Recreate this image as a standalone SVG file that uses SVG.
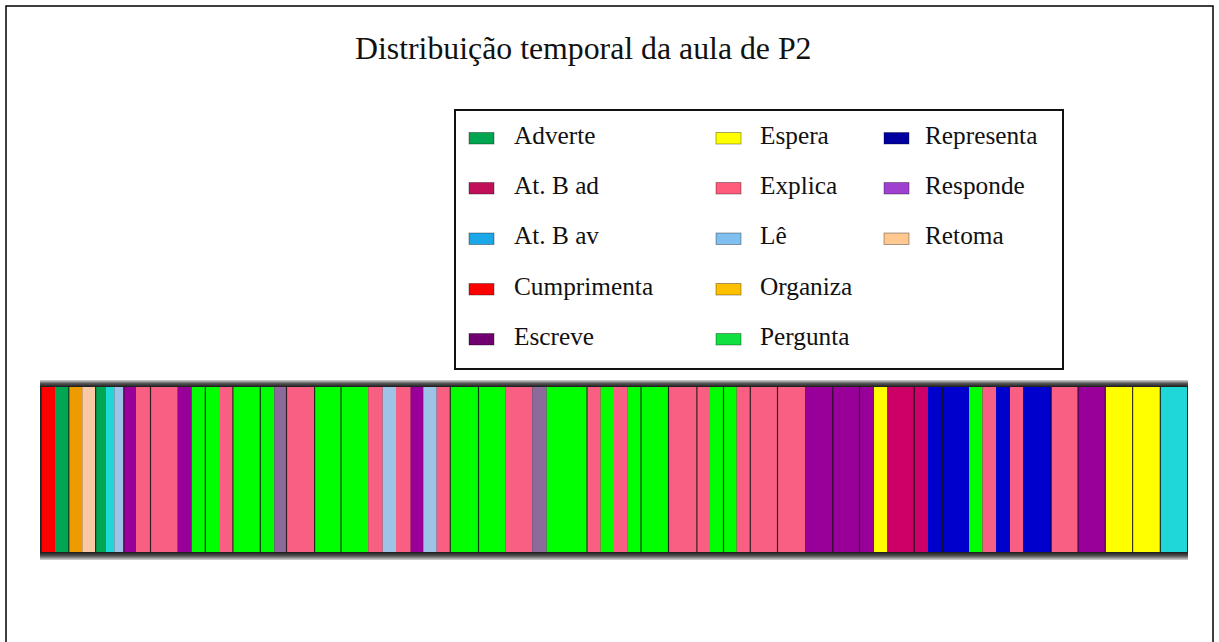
<svg xmlns="http://www.w3.org/2000/svg" width="1219" height="642" viewBox="0 0 1219 642">
<style>
text{font-family:"Liberation Serif","Times New Roman",serif;fill:#111}
.title{font-size:31.8px}
.lg{font-size:25.3px}
.sw{stroke:#000;stroke-opacity:0.35;stroke-width:1}
.seg{stroke:none}
.sep{stroke:#111;stroke-width:1.2;stroke-opacity:0.8}
.red{fill:#FF0000}.adv{fill:#00A651}.org{fill:#EE9B00}.pch{fill:#F9C9A6}
.cya{fill:#1FD7D7}.lbl{fill:#9DC3E6}.pur{fill:#990099}.pnk{fill:#F95F82}
.grn{fill:#00FF00}.gpu{fill:#8C6A9A}.yel{fill:#FFFF00}.crm{fill:#CC0066}.blu{fill:#0000CC}
</style>
<defs>
<linearGradient id="topg" x1="0" y1="0" x2="0" y2="1">
<stop offset="0" stop-color="#d8d8d8"/><stop offset="0.5" stop-color="#555"/><stop offset="1" stop-color="#1a1a1a"/>
</linearGradient>
<linearGradient id="botg" x1="0" y1="0" x2="0" y2="1">
<stop offset="0" stop-color="#1a1a1a"/><stop offset="0.5" stop-color="#555"/><stop offset="1" stop-color="#d8d8d8"/>
</linearGradient>
</defs>
<rect x="0" y="0" width="1219" height="642" fill="#fff"/>
<rect x="6" y="6" width="1207" height="660" fill="none" stroke="#000" stroke-width="1.5"/>
<text class="title" x="355" y="59">Distribuição temporal da aula de P2</text>

<g id="legend">
<rect x="455" y="110" width="608" height="259" fill="#fff" stroke="#111" stroke-width="2"/>
<g id="lg-adverte"><rect class="sw" x="469" y="132.5" width="25" height="11.5" fill="#00A550"/><text class="lg" x="514" y="143.5">Adverte</text></g>
<g id="lg-atbad"><rect class="sw" x="469" y="182.5" width="25" height="11.5" fill="#C0105A"/><text class="lg" x="514" y="193.5">At. B ad</text></g>
<g id="lg-atbav"><rect class="sw" x="469" y="233" width="25" height="11.5" fill="#1AA8E8"/><text class="lg" x="514" y="244">At. B av</text></g>
<g id="lg-cumprimenta"><rect class="sw" x="469" y="283.5" width="25" height="11.5" fill="#FF0000"/><text class="lg" x="514" y="294.5">Cumprimenta</text></g>
<g id="lg-escreve"><rect class="sw" x="469" y="333.5" width="25" height="11.5" fill="#700070"/><text class="lg" x="514" y="344.5">Escreve</text></g>
<g id="lg-espera"><rect class="sw" x="716" y="132.5" width="25" height="11.5" fill="#FFFF00" stroke-opacity="0.1"/><text class="lg" x="760" y="143.5">Espera</text></g>
<g id="lg-explica"><rect class="sw" x="716" y="182.5" width="25" height="11.5" fill="#FF5C7C"/><text class="lg" x="760" y="193.5">Explica</text></g>
<g id="lg-le"><rect class="sw" x="716" y="233" width="25" height="11.5" fill="#80C0F0"/><text class="lg" x="760" y="244">Lê</text></g>
<g id="lg-organiza"><rect class="sw" x="716" y="283.5" width="25" height="11.5" fill="#FFC000"/><text class="lg" x="760" y="294.5">Organiza</text></g>
<g id="lg-pergunta"><rect class="sw" x="716" y="333.5" width="25" height="11.5" fill="#10E040"/><text class="lg" x="760" y="344.5">Pergunta</text></g>
<g id="lg-representa"><rect class="sw" x="884" y="132.5" width="25" height="11.5" fill="#0000A0"/><text class="lg" x="925" y="143.5">Representa</text></g>
<g id="lg-responde"><rect class="sw" x="884" y="182.5" width="25" height="11.5" fill="#A040D0"/><text class="lg" x="925" y="193.5">Responde</text></g>
<g id="lg-retoma"><rect class="sw" x="884" y="233" width="25" height="11.5" fill="#FFC890"/><text class="lg" x="925" y="244">Retoma</text></g>
</g>

<g id="timeline">
<rect x="40" y="380" width="1148" height="7" fill="url(#topg)"/>
<rect x="40" y="552" width="1148" height="8" fill="url(#botg)"/>
<rect x="40" y="387" width="1148" height="165" fill="#222"/>
<rect class="seg red" x="41.7" y="387" width="13.3" height="165"/>
<rect class="seg adv" x="55" y="387" width="14" height="165"/>
<rect class="seg org" x="69" y="387" width="13.3" height="165"/>
<rect class="seg pch" x="82.3" y="387" width="13.4" height="165"/>
<rect class="seg adv" x="95.7" y="387" width="10.3" height="165"/>
<rect class="seg cya" x="106" y="387" width="8.3" height="165"/>
<rect class="seg lbl" x="114.3" y="387" width="9.5" height="165"/>
<rect class="seg pur" x="123.8" y="387" width="12.2" height="165"/>
<rect class="seg pnk" x="136" y="387" width="14.5" height="165"/>
<rect class="seg pnk" x="150.5" y="387" width="27.2" height="165"/>
<rect class="seg pur" x="177.7" y="387" width="14" height="165"/>
<rect class="seg grn" x="191.7" y="387" width="13.6" height="165"/>
<rect class="seg grn" x="205.3" y="387" width="13.7" height="165"/>
<rect class="seg pnk" x="219" y="387" width="13.9" height="165"/>
<rect class="seg grn" x="232.9" y="387" width="27.4" height="165"/>
<rect class="seg grn" x="260.3" y="387" width="14" height="165"/>
<rect class="seg gpu" x="274.3" y="387" width="12.2" height="165"/>
<rect class="seg pnk" x="286.5" y="387" width="28.1" height="165"/>
<rect class="seg grn" x="314.6" y="387" width="26.4" height="165"/>
<rect class="seg grn" x="341" y="387" width="27.3" height="165"/>
<rect class="seg pnk" x="368.3" y="387" width="14.4" height="165"/>
<rect class="seg lbl" x="382.7" y="387" width="13.3" height="165"/>
<rect class="seg pnk" x="396" y="387" width="14.7" height="165"/>
<rect class="seg pur" x="410.7" y="387" width="12.6" height="165"/>
<rect class="seg lbl" x="423.3" y="387" width="13.4" height="165"/>
<rect class="seg pnk" x="436.7" y="387" width="13.6" height="165"/>
<rect class="seg grn" x="450.3" y="387" width="28.2" height="165"/>
<rect class="seg grn" x="478.5" y="387" width="27.2" height="165"/>
<rect class="seg pnk" x="505.7" y="387" width="26.6" height="165"/>
<rect class="seg gpu" x="532.3" y="387" width="14.4" height="165"/>
<rect class="seg grn" x="546.7" y="387" width="40.3" height="165"/>
<rect class="seg pnk" x="587" y="387" width="13.7" height="165"/>
<rect class="seg grn" x="600.7" y="387" width="13.3" height="165"/>
<rect class="seg pnk" x="614" y="387" width="13.3" height="165"/>
<rect class="seg grn" x="627.3" y="387" width="13.7" height="165"/>
<rect class="seg grn" x="641" y="387" width="27.5" height="165"/>
<rect class="seg pnk" x="668.5" y="387" width="28.4" height="165"/>
<rect class="seg pnk" x="696.9" y="387" width="13.1" height="165"/>
<rect class="seg grn" x="710" y="387" width="13.5" height="165"/>
<rect class="seg grn" x="723.5" y="387" width="13.2" height="165"/>
<rect class="seg pnk" x="736.7" y="387" width="13.6" height="165"/>
<rect class="seg pnk" x="750.3" y="387" width="27.2" height="165"/>
<rect class="seg pnk" x="777.5" y="387" width="27.5" height="165"/>
<rect class="seg pur" x="805" y="387" width="27.8" height="165"/>
<rect class="seg pur" x="832.8" y="387" width="26.7" height="165"/>
<rect class="seg pur" x="859.5" y="387" width="14.5" height="165"/>
<rect class="seg yel" x="874" y="387" width="13.3" height="165"/>
<rect class="seg crm" x="887.3" y="387" width="26.9" height="165"/>
<rect class="seg crm" x="914.2" y="387" width="13.8" height="165"/>
<rect class="seg blu" x="928" y="387" width="14.5" height="165"/>
<rect class="seg blu" x="942.5" y="387" width="26.5" height="165"/>
<rect class="seg grn" x="969" y="387" width="13.5" height="165"/>
<rect class="seg pnk" x="982.5" y="387" width="13.5" height="165"/>
<rect class="seg blu" x="996" y="387" width="14" height="165"/>
<rect class="seg pnk" x="1010" y="387" width="13.3" height="165"/>
<rect class="seg blu" x="1023.3" y="387" width="27.9" height="165"/>
<rect class="seg pnk" x="1051.2" y="387" width="26.8" height="165"/>
<rect class="seg pur" x="1078" y="387" width="27.3" height="165"/>
<rect class="seg yel" x="1105.3" y="387" width="27.3" height="165"/>
<rect class="seg yel" x="1132.6" y="387" width="27.7" height="165"/>
<rect class="seg cya" x="1160.3" y="387" width="26.7" height="165"/>
<g id="separators">
<line class="sep" x1="68.8" y1="387" x2="68.8" y2="552"/>
<line class="sep" x1="95.6" y1="387" x2="95.6" y2="552"/>
<line class="sep" x1="123.8" y1="387" x2="123.8" y2="552"/>
<line class="sep" x1="150.5" y1="387" x2="150.5" y2="552"/>
<line class="sep" x1="205.3" y1="387" x2="205.3" y2="552"/>
<line class="sep" x1="232.9" y1="387" x2="232.9" y2="552"/>
<line class="sep" x1="260.3" y1="387" x2="260.3" y2="552"/>
<line class="sep" x1="286.5" y1="387" x2="286.5" y2="552"/>
<line class="sep" x1="314.6" y1="387" x2="314.6" y2="552"/>
<line class="sep" x1="341" y1="387" x2="341" y2="552"/>
<line class="sep" x1="450.3" y1="387" x2="450.3" y2="552"/>
<line class="sep" x1="478.5" y1="387" x2="478.5" y2="552"/>
<line class="sep" x1="587" y1="387" x2="587" y2="552"/>
<line class="sep" x1="641" y1="387" x2="641" y2="552"/>
<line class="sep" x1="668.5" y1="387" x2="668.5" y2="552"/>
<line class="sep" x1="696.9" y1="387" x2="696.9" y2="552"/>
<line class="sep" x1="723.5" y1="387" x2="723.5" y2="552"/>
<line class="sep" x1="750.3" y1="387" x2="750.3" y2="552"/>
<line class="sep" x1="777.5" y1="387" x2="777.5" y2="552"/>
<line class="sep" x1="832.8" y1="387" x2="832.8" y2="552"/>
<line class="sep" x1="859.5" y1="387" x2="859.5" y2="552"/>
<line class="sep" x1="914.2" y1="387" x2="914.2" y2="552"/>
<line class="sep" x1="942.5" y1="387" x2="942.5" y2="552"/>
<line class="sep" x1="1051.2" y1="387" x2="1051.2" y2="552"/>
<line class="sep" x1="1078" y1="387" x2="1078" y2="552"/>
<line class="sep" x1="1105.3" y1="387" x2="1105.3" y2="552"/>
<line class="sep" x1="1132.6" y1="387" x2="1132.6" y2="552"/>
<line class="sep" x1="1160.3" y1="387" x2="1160.3" y2="552"/>
</g>
</g>
</svg>
